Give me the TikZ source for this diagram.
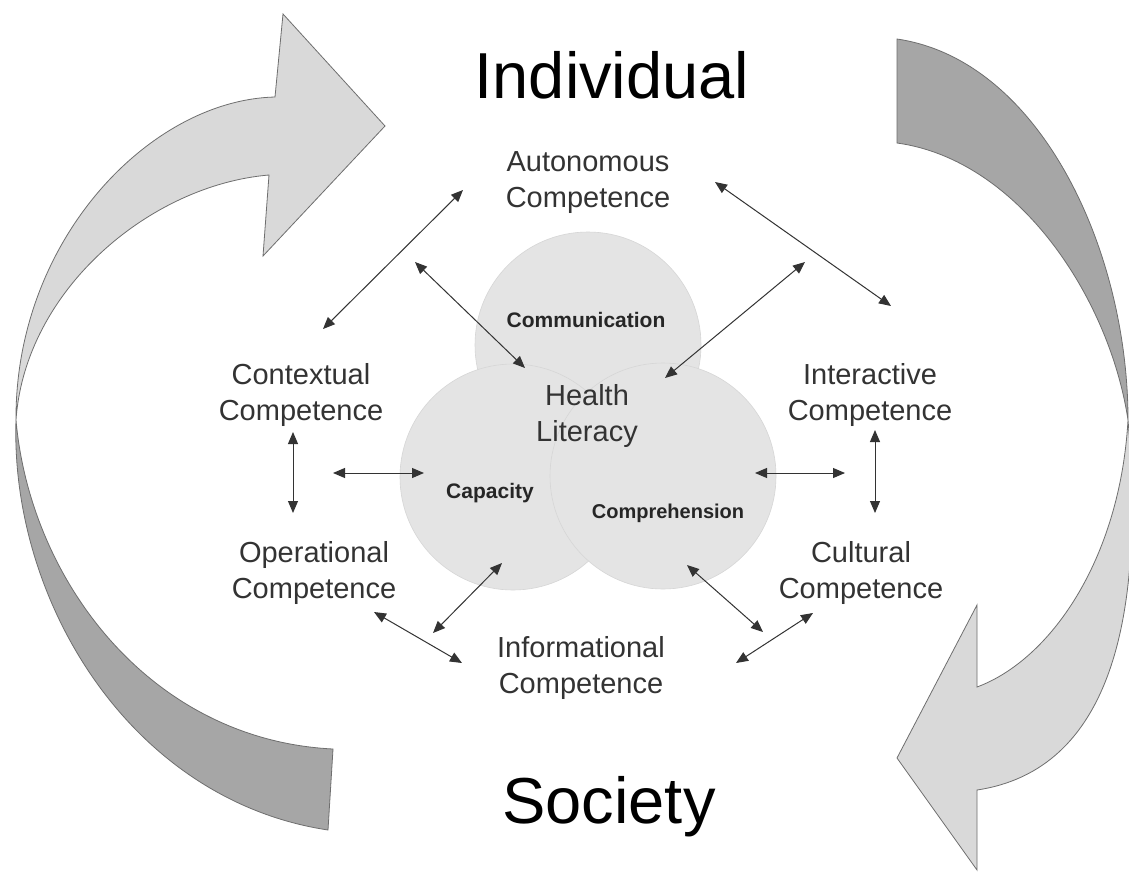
\documentclass[tikz,border=0pt]{standalone}
\usepackage{fontspec}
\setmainfont{Liberation Sans}
\usetikzlibrary{arrows.meta}
\definecolor{bandlight}{HTML}{D9D9D9}
\definecolor{banddark}{HTML}{A6A6A6}
\definecolor{bandedge}{HTML}{6E6E6E}
\definecolor{discfill}{HTML}{E4E4E4}
\definecolor{discedge}{HTML}{D6D6D6}
\definecolor{ink}{HTML}{333333}

\begin{document}
\begin{tikzpicture}[
        x=1pt, y=-1pt,
        competence/.style = {align=center, inner sep=0pt, text=ink, font=\fontsize{29}{36}\selectfont},
        title/.style = {anchor=base, inner sep=0pt, text=black, font=\fontsize{65}{78}\selectfont},
        part/.style = {anchor=base, inner sep=0pt, text=black!85, font=\fontsize{21}{25}\selectfont\bfseries},
        disc/.style = {circle, minimum size=226pt, inner sep=0pt, fill=discfill, draw=discedge, line width=0.6pt},
        band/.style = {draw=bandedge, line width=0.8pt, line join=miter},
        link/.style = {{Triangle[length=12pt,width=10pt]}-{Triangle[length=12pt,width=10pt]}, line width=1pt, draw=black!80}
    ]
        \useasboundingbox (0,0) rectangle (1129,873);
        \clip (0,0) rectangle (1129,873);
        \fill[white] (0,0) rectangle (1129,873);

        \draw[band, fill=bandlight] (269,175) .. controls (150,185) and (25,290) .. (16,420)
            .. controls (15,240) and (150,100) .. (275,97) -- (283,14) -- (385,126) -- (263,256) -- cycle;
        \draw[band, fill=banddark] (16,420) .. controls (10,600) and (130,800) .. (328,830) -- (333,749)
            .. controls (150,740) and (30,580) .. (16,420) -- cycle;
        \draw[band, fill=banddark] (897,39) .. controls (1040,60) and (1128,250) .. (1128,420)
            .. controls (1110,300) and (1020,160) .. (897,143) -- cycle;
        \draw[band, fill=bandlight] (1128,420) .. controls (1145,620) and (1110,770) .. (977,790)
            -- (977,870) -- (897,758) -- (977,605) -- (977,687)
            .. controls (1050,660) and (1120,560) .. (1128,420) -- cycle;

        \node[disc] (communication) at (588,345) {};
        \node[disc] (capacity) at (513,477) {};
        \node[disc] (comprehension) at (663,476) {};
        \node[part] (communication-label) at (586,327) {Communication};
        \node[part] (capacity-label) at (490,498) {Capacity};
        \node[part, font=\fontsize{20}{24}\selectfont\bfseries] (comprehension-label) at (668,518) {Comprehension};
        \node[competence] (health) at (587,416) {Health\\Literacy};

        \node[title] (individual) at (612,98) {Individual};
        \node[title] (society) at (609,823) {Society};
        \node[competence] (autonomous) at (588,183) {Autonomous\\Competence};
        \node[competence] (contextual) at (301,395) {Contextual\\Competence};
        \node[competence] (interactive) at (870,395) {Interactive\\Competence};
        \node[competence] (operational) at (314,573) {Operational\\Competence};
        \node[competence] (cultural) at (861,573) {Cultural\\Competence};
        \node[competence] (informational) at (581,668) {Informational\\Competence};

        \coordinate (ctx-au) at (323,329);
        \coordinate (au-ctx) at (463,190);
        \coordinate (au-left) at (415,262);
        \coordinate (hl-left) at (525,368);
        \coordinate (au-right) at (805,262);
        \coordinate (hl-right) at (665,378);
        \coordinate (au-int) at (715,182);
        \coordinate (int-au) at (891,306);
        \coordinate (ctx-op) at (293,432);
        \coordinate (op-ctx) at (293,513);
        \coordinate (ctx-cap) at (333,473);
        \coordinate (cap-ctx) at (424,473);
        \coordinate (comp-int) at (755,473);
        \coordinate (int-comp) at (845,473);
        \coordinate (int-cul) at (875,430);
        \coordinate (cul-int) at (875,513);
        \coordinate (op-inf) at (374,612);
        \coordinate (inf-op) at (462,663);
        \coordinate (inf-cap) at (433,633);
        \coordinate (cap-inf) at (502,563);
        \coordinate (comp-inf) at (687,565);
        \coordinate (inf-comp) at (763,632);
        \coordinate (cul-inf) at (813,613);
        \coordinate (inf-cul) at (736,663);

        \draw[link] (ctx-au) -- (au-ctx);
        \draw[link] (au-left) -- (hl-left);
        \draw[link] (au-right) -- (hl-right);
        \draw[link] (au-int) -- (int-au);
        \draw[link] (ctx-op) -- (op-ctx);
        \draw[link] (ctx-cap) -- (cap-ctx);
        \draw[link] (comp-int) -- (int-comp);
        \draw[link] (int-cul) -- (cul-int);
        \draw[link] (op-inf) -- (inf-op);
        \draw[link] (inf-cap) -- (cap-inf);
        \draw[link] (comp-inf) -- (inf-comp);
        \draw[link] (cul-inf) -- (inf-cul);
    \end{tikzpicture}
\end{document}
